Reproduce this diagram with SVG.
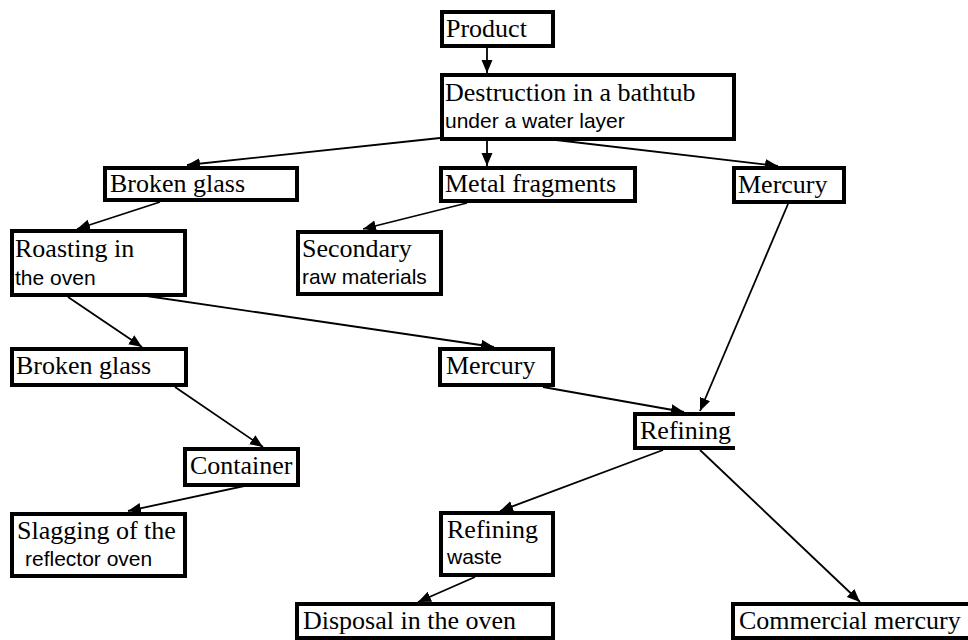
<svg xmlns="http://www.w3.org/2000/svg" width="968" height="640" viewBox="0 0 968 640">
<style>
.box{fill:#fff;stroke:#000;stroke-width:4}
.t1{font-family:"Liberation Serif","Times New Roman",serif;font-size:26px;fill:#000}
.t2{font-family:"Liberation Sans",Arial,sans-serif;font-size:21px;fill:#000}
.c{stroke:#000;stroke-width:1.8;fill:none;marker-end:url(#ah)}
</style>
<defs>
<marker id="ah" markerUnits="userSpaceOnUse" markerWidth="14" markerHeight="12" refX="13" refY="5.5" orient="auto">
<path d="M0,0 L13,5.5 L0,11 z" fill="#000"/>
</marker>
</defs>
<rect width="968" height="640" fill="#fff"/>
<g id="connectors">
<line class="c" x1="487" y1="48" x2="487" y2="73"/>
<line class="c" x1="440" y1="138" x2="187" y2="165"/>
<line class="c" x1="487" y1="141" x2="487" y2="166"/>
<line class="c" x1="556" y1="140" x2="778" y2="166"/>
<line class="c" x1="160" y1="202" x2="77" y2="229"/>
<line class="c" x1="467" y1="203" x2="363" y2="229"/>
<line class="c" x1="68" y1="297" x2="142" y2="347"/>
<line class="c" x1="140" y1="295" x2="494" y2="347"/>
<line class="c" x1="175" y1="387" x2="263" y2="447"/>
<line class="c" x1="263" y1="482" x2="128" y2="511"/>
<line class="c" x1="788" y1="204" x2="700" y2="411"/>
<line class="c" x1="543" y1="387" x2="684" y2="412"/>
<line class="c" x1="663" y1="450" x2="500" y2="511"/>
<line class="c" x1="700" y1="450" x2="860" y2="602"/>
<line class="c" x1="475" y1="577" x2="418" y2="602"/>
</g>
<g id="product"><rect class="box" x="442" y="12" width="111" height="34"/><text class="t1" x="446" y="37">Product</text></g>
<g id="destruction"><rect class="box" x="442" y="75" width="292" height="64"/><text class="t1" x="445" y="101">Destruction in a bathtub</text><text class="t2" x="445" y="128">under a water layer</text></g>
<g id="broken-glass-1"><rect class="box" x="105" y="168" width="192" height="32"/><text class="t1" x="110" y="192">Broken glass</text></g>
<g id="metal-fragments"><rect class="box" x="441" y="168" width="194" height="33"/><text class="t1" x="445" y="192">Metal fragments</text></g>
<g id="mercury-1"><rect class="box" x="734" y="168" width="110" height="34"/><text class="t1" x="738" y="193">Mercury</text></g>
<g id="roasting"><rect class="box" x="12" y="231" width="173" height="64"/><text class="t1" x="15" y="257">Roasting in</text><text class="t2" x="15" y="285">the oven</text></g>
<g id="secondary"><rect class="box" x="298" y="232" width="143" height="62"/><text class="t1" x="302" y="257">Secondary</text><text class="t2" x="302" y="284">raw materials</text></g>
<g id="broken-glass-2"><rect class="box" x="12" y="349" width="174" height="36"/><text class="t1" x="16" y="374">Broken glass</text></g>
<g id="mercury-2"><rect class="box" x="440" y="349" width="113" height="36"/><text class="t1" x="446" y="374">Mercury</text></g>
<g id="refining"><path class="box" d="M735,414 H635 V448 H735"/><text class="t1" x="640" y="439">Refining</text></g>
<g id="container"><rect class="box" x="185" y="449" width="113" height="36"/><text class="t1" x="190" y="474">Container</text></g>
<g id="slagging"><rect class="box" x="12" y="514" width="173" height="62"/><text class="t1" x="17" y="539">Slagging of the</text><text class="t2" x="25" y="566">reflector oven</text></g>
<g id="refining-waste"><rect class="box" x="441" y="513" width="112" height="62"/><text class="t1" x="447" y="538">Refining</text><text class="t2" x="447" y="564">waste</text></g>
<g id="disposal"><rect class="box" x="297" y="604" width="256" height="34"/><text class="t1" x="303" y="629">Disposal in the oven</text></g>
<g id="commercial"><rect class="box" x="733" y="604" width="240" height="34"/><text class="t1" x="739" y="629">Commercial mercury</text></g>
</svg>
